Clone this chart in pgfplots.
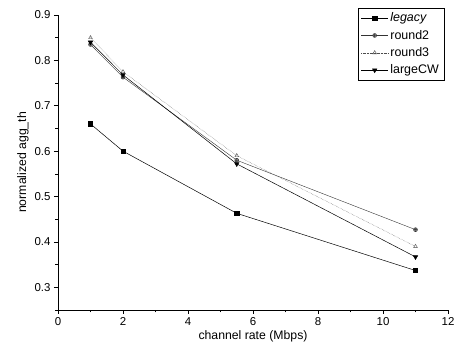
\documentclass[border=0pt]{standalone}
\usepackage{pgfplots}
\pgfplotsset{compat=1.18}
\usepackage{fontspec}
\setmainfont{Liberation Sans}
\begin{document}
\begin{tikzpicture}
\path[use as bounding box] (-58bp,-47bp) rectangle (403bp,310bp);
\begin{axis}[
  scale only axis, width=390bp, height=295bp,
  xmin=0, xmax=12, ymin=0.25, ymax=0.9,
  axis lines=left, axis line style={-, line width=0.8pt},
  xtick={0,2,...,12}, minor xtick={1,3,...,11},
  ytick={0.3,0.4,...,0.9}, minor ytick={0.25,0.35,...,0.85},
  tick align=outside, tick style={black, line width=0.6pt},
  major tick length=4bp, minor tick length=2.5bp,
  yticklabel style={/pgf/number format/fixed, /pgf/number format/precision=1, /pgf/number format/fixed zerofill},
  /pgf/number format/assume math mode=true,
  ticklabel style={font=\fontsize{11.5}{13}\selectfont},
  label style={font=\fontsize{12.3}{14}\selectfont},
  xlabel={channel rate (Mbps)}, ylabel={normalized agg\_th},
  xlabel style={yshift=2bp}, ylabel style={yshift=-1bp},
  legend style={at={(0.99,1.025)}, anchor=north east, font=\fontsize{12.5}{15}\selectfont, draw=black, line width=0.6pt, inner sep=3pt, row sep=2.8pt},
  legend cell align=left,
  legend image code/.code={
    \draw[#1, mark=none] (0cm,0cm) -- (0.95cm,0cm);
    \draw[#1, only marks] plot coordinates {(0.475cm,0cm)};
  },
]
\addplot[black, line width=0.5pt, mark=square*, mark size=2.2pt] coordinates {(1,0.66) (2,0.60) (5.5,0.463) (11,0.337)};
\addlegendentry{\textit{legacy}}
\addplot[black!80, line width=0.4pt, mark=oplus*, mark size=2pt, mark options={fill=gray}] coordinates {(1,0.835) (2,0.763) (5.5,0.58) (11,0.427)};
\addlegendentry{round2}
\addplot[black!70, line width=0.4pt, densely dotted, mark=triangle, mark size=2.2pt, mark options={solid}] coordinates {(1,0.85) (2,0.775) (5.5,0.59) (11,0.39)};
\addlegendentry{round3}
\addplot[black, line width=0.5pt, mark=triangle*, mark size=2.6pt, mark options={rotate=180}] coordinates {(1,0.84) (2,0.768) (5.5,0.572) (11,0.367)};
\addlegendentry{largeCW}
\end{axis}
\end{tikzpicture}
\end{document}
